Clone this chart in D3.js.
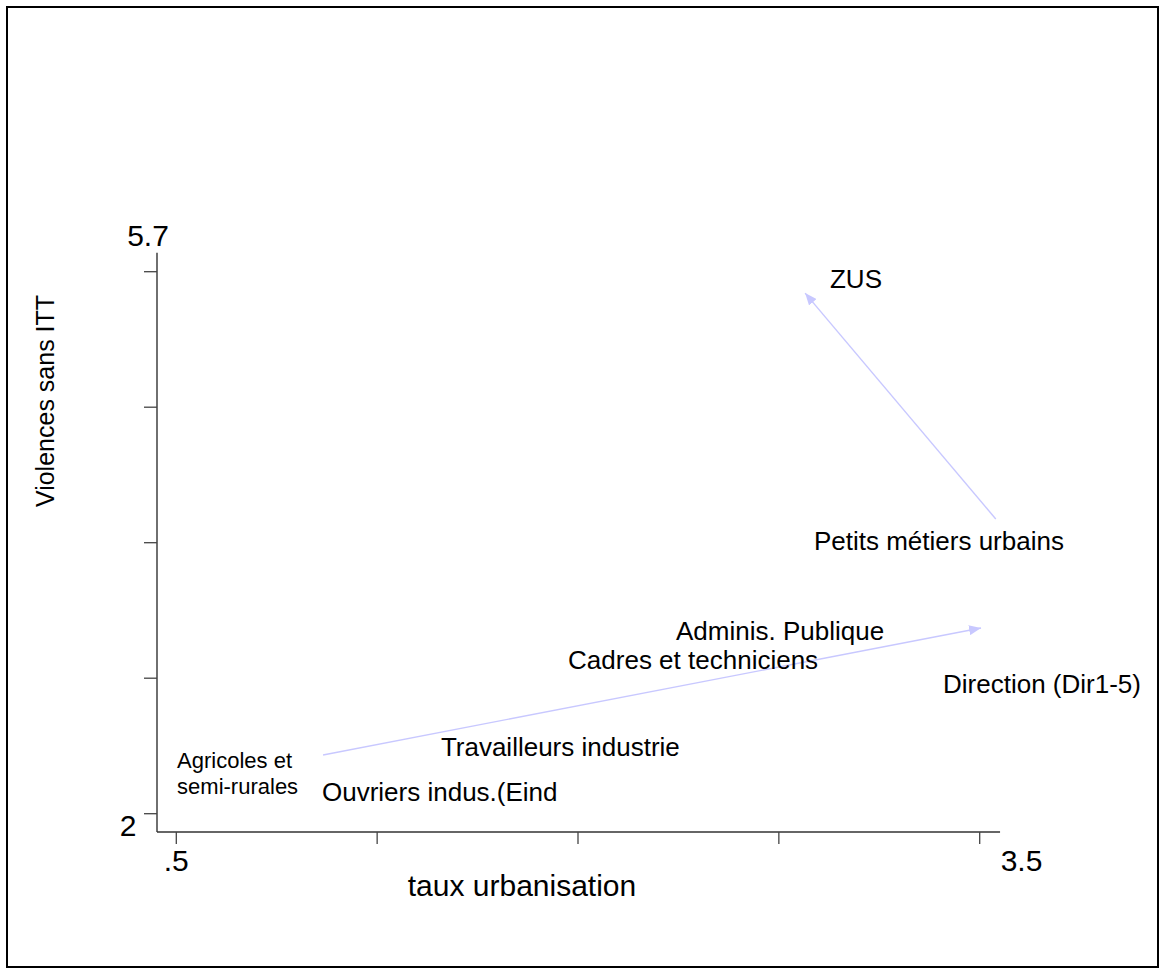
<!DOCTYPE html>
<html>
<head>
<meta charset="utf-8">
<script src="https://cdn.jsdelivr.net/npm/d3@7"></script>
<style>
  html, body { margin: 0; padding: 0; background: #fff; }
  svg { display: block; font-family: "Liberation Sans", Arial, Helvetica, sans-serif; }
</style>
</head>
<body>
<svg id="chart" width="1160" height="970"></svg>
<script>
// ---- data ----
const labelNames = ["ZUS", "Petits métiers urbains", "Adminis. Publique", "Cadres et techniciens",
                    "Direction (Dir1-5)", "Travailleurs industrie", "Ouvriers indus.(Eind",
                    "Agricoles et\nsemi-rurales"];
const labelX = [2.941, 2.881, 2.366, 1.963, 3.363, 1.488, 1.044, 0.503];
const labelY = [5.653, 3.865, 3.247, 3.049, 2.885, 2.455, 2.148, 2.278];
const labelSmall = [false, false, false, false, false, false, false, true];

const arrowX1 = [1.048, 3.560];
const arrowY1 = [2.401, 4.012];
const arrowX2 = [3.505, 2.848];
const arrowY2 = [3.268, 5.554];

const xTicks = [0.5, 1.25, 2.0, 2.75, 3.5];
const xTickLabels = [".5", "", "", "", "3.5"];
const yTicks = [2, 2.925, 3.85, 4.775, 5.7];
const yTickLabels = ["2", "", "", "", "5.7"];

const xTitle = "taux urbanisation";
const yTitle = "Violences sans ITT";

// ---- layout ----
const svg = d3.select("#chart");
const x = d3.scaleLinear().domain([0.5, 3.5]).range([176.3, 979.7]);
const y = d3.scaleLinear().domain([2, 5.7]).range([813.7, 271.7]);
const axisLeftX = 157, axisBottomY = 832;
const xExtent = [0.428, 3.576];
const yExtent = [1.877, 5.83];

// outer frame
svg.append("rect").attr("x", 7).attr("y", 7).attr("width", 1151).attr("height", 960)
  .attr("fill", "none").attr("stroke", "#000").attr("stroke-width", 2);

// axes lines
const axisColor = "#333";
svg.append("line").attr("x1", axisLeftX).attr("x2", axisLeftX)
  .attr("y1", y(yExtent[1])).attr("y2", axisBottomY)
  .attr("stroke", axisColor).attr("stroke-width", 1.4);
svg.append("line").attr("x1", axisLeftX).attr("x2", x(xExtent[1]))
  .attr("y1", axisBottomY).attr("y2", axisBottomY)
  .attr("stroke", axisColor).attr("stroke-width", 1.4);

// y ticks
svg.selectAll(".yt").data(yTicks).enter().append("line")
  .attr("x1", axisLeftX - 13).attr("x2", axisLeftX)
  .attr("y1", d => y(d)).attr("y2", d => y(d))
  .attr("stroke", "#444").attr("stroke-width", 1.3);
// x ticks
svg.selectAll(".xt").data(xTicks).enter().append("line")
  .attr("x1", d => x(d)).attr("x2", d => x(d))
  .attr("y1", axisBottomY).attr("y2", axisBottomY + 12)
  .attr("stroke", "#444").attr("stroke-width", 1.3);

// tick labels (placed as in reference)
const tickFont = 30;
svg.append("text").attr("x", 148).attr("y", y(yTicks[4]) - 26).attr("text-anchor", "middle")
  .attr("font-size", tickFont).attr("fill", "#000").text(yTickLabels[4]);
svg.append("text").attr("x", 128).attr("y", y(yTicks[0]) + 22).attr("text-anchor", "middle")
  .attr("font-size", tickFont).attr("fill", "#000").text(yTickLabels[0]);
svg.append("text").attr("x", x(xTicks[0])).attr("y", axisBottomY + 39).attr("text-anchor", "middle")
  .attr("font-size", tickFont).attr("fill", "#000").text(xTickLabels[0]);
svg.append("text").attr("x", x(xTicks[4]) + 21).attr("y", axisBottomY + 39).attr("text-anchor", "start")
  .attr("font-size", tickFont).attr("fill", "#000").text(xTickLabels[4]);

// axis titles
svg.append("text").attr("x", 522).attr("y", 896).attr("text-anchor", "middle")
  .attr("font-size", 30).attr("fill", "#000").text(xTitle);
svg.append("text").attr("transform", "translate(54,401) rotate(-90)").attr("text-anchor", "middle")
  .attr("font-size", 25).attr("fill", "#000").text(yTitle);

// arrows
const arrowColor = "#c8c8ff";
svg.append("defs").append("marker").attr("id", "ah")
  .attr("viewBox", "0 0 12 10").attr("refX", 12).attr("refY", 5)
  .attr("markerWidth", 12).attr("markerHeight", 10).attr("markerUnits", "userSpaceOnUse")
  .attr("orient", "auto")
  .append("path").attr("d", "M0,0 L12,5 L0,10 Z").attr("fill", arrowColor);

const arrows = arrowX1.map((d, i) => ({x1: d, y1: arrowY1[i], x2: arrowX2[i], y2: arrowY2[i]}));
svg.selectAll(".arrow").data(arrows).enter().append("line")
  .attr("x1", d => x(d.x1)).attr("y1", d => y(d.y1))
  .attr("x2", d => x(d.x2)).attr("y2", d => y(d.y2))
  .attr("stroke", arrowColor).attr("stroke-width", 1.4)
  .attr("marker-end", "url(#ah)");

// labels
const labels = labelNames.map((n, i) => ({name: n, x: labelX[i], y: labelY[i], small: labelSmall[i]}));
labels.forEach(d => {
  const lines = d.name.split("\n");
  const fs = d.small ? 22 : 26;
  const lh = 26;
  const capH = fs * 0.716;
  const t = svg.append("text").attr("font-size", fs).attr("fill", "#000");
  const y0 = y(d.y) - (lines.length - 1) * lh / 2 + capH / 2;
  lines.forEach((ln, k) => {
    t.append("tspan").attr("x", x(d.x)).attr("y", y0 + k * lh).text(ln);
  });
});
</script>
</body>
</html>
